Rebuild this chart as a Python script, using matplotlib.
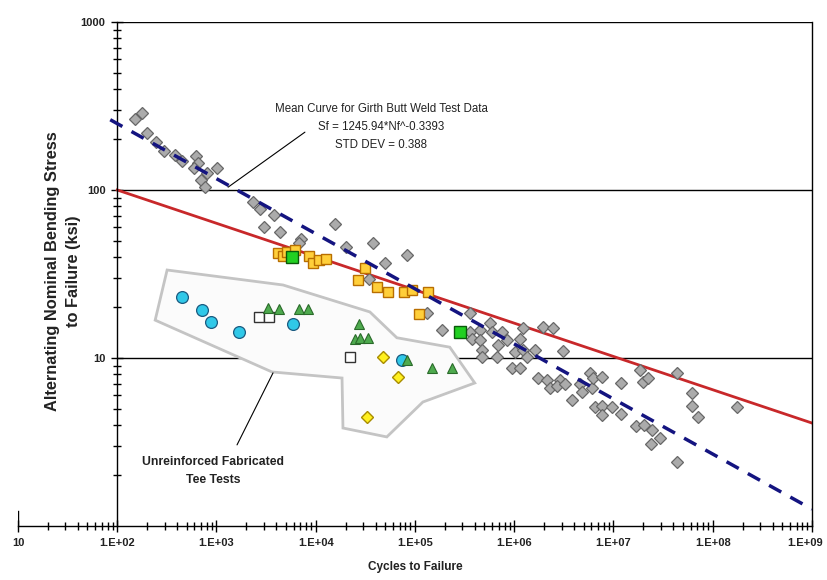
import numpy as np
import matplotlib
matplotlib.use("Agg")
import matplotlib.pyplot as plt
import matplotlib.transforms as mtransforms
from matplotlib.ticker import FixedLocator, FixedFormatter, LogLocator, NullFormatter

plt.rcParams['font.family'] = ['Liberation Sans', 'DejaVu Sans']

# girth butt weld test data (gray diamonds)
gray_cycles = [152, 179, 200, 247, 297, 383, 451, 623, 653, 596, 804, 1010, 700, 767,
               2330, 2750, 3790, 3010, 4360, 7100, 6780, 15600, 20100, 37600, 49700, 82800, 34300,
               1.31e5, 1.86e5, 3.56e5, 3.56e5, 4.49e5, 5.65e5, 5.92e5, 7.46e5, 3.72e5, 4.49e5,
               8.39e5, 1.13e6, 1.22e6, 1.93e6, 2.43e6, 4.70e5, 6.81e5, 6.65e5, 4.70e5, 1.01e6,
               1.22e6, 1.60e6, 1.33e6, 9.42e5, 1.13e6, 1.72e6, 2.12e6, 3.07e6, 2.86e6, 2.27e6,
               2.67e6, 3.21e6, 4.55e6, 4.76e6, 6.01e6, 5.74e6, 6.15e6, 7.74e6, 1.20e7, 3.78e6,
               6.44e6, 7.74e6, 9.55e6, 7.57e6, 1.20e7, 1.70e7, 2.05e7, 2.47e7, 2.97e7, 2.41e7,
               4.41e7, 1.87e7, 1.96e7, 2.25e7, 4.41e7, 6.24e7, 6.24e7, 7.16e7, 1.77e8]
gray_stress = [265, 287, 218, 193, 171, 162, 149, 159, 145, 135, 126, 135, 115, 104,
               84.9, 77.1, 71.0, 60.3, 56.2, 51.1, 48.4, 62.8, 45.8, 48.4, 36.7, 41.0, 29.5,
               18.5, 14.7, 18.5, 14.3, 14.7, 16.2, 14.3, 14.3, 13.0, 12.8,
               12.8, 13.0, 15.1, 15.3, 15.1, 11.2, 11.9, 10.1, 10.1, 10.9,
               11.2, 11.2, 10.1, 8.72, 8.72, 7.60, 7.40, 11.0, 7.40, 6.63,
               6.81, 7.00, 7.00, 6.28, 6.63, 8.15, 7.60, 7.71, 7.10, 5.62,
               5.11, 5.18, 5.11, 4.58, 4.64, 3.94, 3.99, 3.73, 3.34, 3.08,
               2.40, 8.49, 7.20, 7.60, 8.15, 6.19, 5.18, 4.45, 5.11]

orange_cycles = [4170, 4680, 5130, 6180, 8550, 9370, 10800, 12700, 26600, 31300,
                 41300, 53200, 77100, 92900, 1.35e5, 1.09e5]
orange_stress = [42.2, 40.5, 42.8, 43.9, 40.5, 36.7, 38.3, 38.8, 29.1, 34.3,
                 26.5, 24.7, 24.7, 25.4, 24.7, 18.3]

green_sq_cycles = [5770, 2.83e5]
green_sq_stress = [39.9, 14.3]

# unreinforced fabricated tee tests
cyan_cycles = [451, 716, 883, 1690, 5900, 73600]
cyan_stress = [23.1, 19.3, 16.4, 14.3, 15.9, 9.73]

open_sq_cycles = [2680, 3380, 22100]
open_sq_stress = [17.5, 17.5, 10.1]

tri_cycles = [3300, 4270, 6780, 8350, 27200, 24800, 27900, 33500, 82800, 1.48e5, 2.34e5]
tri_stress = [19.8, 19.6, 19.6, 19.6, 15.9, 13.0, 13.2, 13.2, 9.73, 8.72, 8.72]

yellow_cycles = [47400, 67100, 32700]
yellow_stress = [10.1, 7.71, 4.45]

# outline around the tee tests
region_cycles = [318, 4680, 35100, 65600, 2.24e5, 4.0e5, 1.2e5, 52000, 18800, 18400, 3620, 241, 318]
region_stress = [33.4, 27.2, 18.8, 13.2, 11.6, 7.10, 5.47, 3.39, 3.83, 7.60, 8.26, 16.8, 33.4]

# curves
mean_cycles = [85, 1e9]
mean_stress = [262, 1.26]
design_cycles = [100, 1e9]
design_stress = [100, 4.1]

x_ticks = [10, 1e2, 1e3, 1e4, 1e5, 1e6, 1e7, 1e8, 1e9]
x_labels = ['10', '1.E+02', '1.E+03', '1.E+04', '1.E+05', '1.E+06', '1.E+07', '1.E+08', '1.E+09']
y_ticks = [10, 100, 1000]
y_labels = ['10', '100', '1000']

fig = plt.figure(figsize=(8.28, 5.8), dpi=100)
ax = fig.add_axes([18 / 828, 54 / 580, 794 / 828, 504 / 580])
ax.set_xscale('log')
ax.set_yscale('log')
ax.set_xlim(10, 1e9)
ax.set_ylim(1, 1000)

ax.spines['top'].set_visible(False)
ax.spines['left'].set_position(('data', 100))
for s in ax.spines.values():
    s.set_linewidth(1.0)

ax.hlines([10, 100, 1000], 100, 1e9, colors='black', linewidth=1.0, zorder=1)
ax.axvline(10, ymax=0.03, color='black', linewidth=1.0)

ax.fill(region_cycles, region_stress, facecolor='#fbfbfb', edgecolor='#c4c4c4',
        linewidth=2, zorder=1.5)

ax.plot(design_cycles, design_stress, color='#c8282a', linewidth=2, zorder=2)

ax.plot(gray_cycles, gray_stress, 'D', markersize=5.8, markerfacecolor='#ababab',
        markeredgecolor='#676767', markeredgewidth=0.9, zorder=3)
ax.plot(orange_cycles, orange_stress, 's', markersize=7, markerfacecolor='#ffcf3a',
        markeredgecolor='#b86e00', markeredgewidth=1, zorder=3)
ax.plot(green_sq_cycles, green_sq_stress, 's', markersize=8, markerfacecolor='#22d022',
        markeredgecolor='#0a5a0a', markeredgewidth=1, zorder=3)
ax.plot(cyan_cycles, cyan_stress, 'o', markersize=8.5, markerfacecolor='#30c8e8',
        markeredgecolor='#1a5a80', markeredgewidth=0.9, zorder=3)
ax.plot(open_sq_cycles, open_sq_stress, 's', markersize=7.5, markerfacecolor='white',
        markeredgecolor='#333333', markeredgewidth=1, zorder=3)
ax.plot(tri_cycles, tri_stress, '^', markersize=7.5, markerfacecolor='#4eaa4e',
        markeredgecolor='#2a6a2a', markeredgewidth=0.8, zorder=3)
ax.plot(yellow_cycles, yellow_stress, 'D', markersize=6.5, markerfacecolor='#fff020',
        markeredgecolor='#a88c00', markeredgewidth=1, zorder=3)

ax.plot(mean_cycles, mean_stress, color='#141480', linewidth=2.5,
        linestyle=(0, (4, 3)), zorder=4)

ax.xaxis.set_major_locator(FixedLocator(x_ticks))
ax.xaxis.set_major_formatter(FixedFormatter(x_labels))
ax.xaxis.set_minor_locator(LogLocator(base=10, subs=np.arange(2, 10), numticks=20))
ax.xaxis.set_minor_formatter(NullFormatter())
ax.yaxis.set_major_locator(FixedLocator(y_ticks))
ax.yaxis.set_major_formatter(FixedFormatter(y_labels))
ax.yaxis.set_minor_locator(LogLocator(base=10, subs=np.arange(2, 10), numticks=20))
ax.yaxis.set_minor_formatter(NullFormatter())
ax.tick_params(which='major', direction='inout', length=9, width=1,
               labelsize=8, pad=4)
ax.tick_params(which='minor', direction='inout', length=6, width=1)
for lab in ax.get_xticklabels() + ax.get_yticklabels():
    lab.set_fontweight('bold')
    lab.set_color('#222222')
# keep the last x label inside the figure
last = ax.get_xticklabels()[-1]
last.set_transform(last.get_transform() +
                   mtransforms.ScaledTranslation(-5 / 72, 0, fig.dpi_scale_trans))

# leader lines
ax.annotate('', xy=(1310, 104), xytext=(7780, 221),
            arrowprops=dict(arrowstyle='-', color='black', linewidth=0.8,
                            shrinkA=0, shrinkB=0))
ax.annotate('', xy=(1610, 3.04), xytext=(3710, 8.15),
            arrowprops=dict(arrowstyle='-', color='black', linewidth=0.8,
                            shrinkA=0, shrinkB=0))

fig.text(381 / 828, 1 - 127 / 580,
         'Mean Curve for Girth Butt Weld Test Data\nSf = 1245.94*Nf^-0.3393\nSTD DEV = 0.388',
         ha='center', va='center', fontsize=8.3, color='#222222', linespacing=1.65)
fig.text(213 / 828, 1 - 471 / 580, 'Unreinforced Fabricated\nTee Tests', ha='center',
         va='center', fontsize=8.8, fontweight='bold', color='#222222', linespacing=1.6)

fig.text(415 / 828, 1 - 567 / 580, 'Cycles to Failure', ha='center', va='center',
         fontsize=8.5, fontweight='bold', color='#222222')
fig.text(63 / 828, 1 - 271 / 580, 'Alternating Nominal Bending Stress\nto Failure (ksi)',
         ha='center', va='center', rotation=90, fontsize=11.8, fontweight='bold',
         color='#222222', linespacing=1.45)

fig.savefig('out.png', dpi=100)
